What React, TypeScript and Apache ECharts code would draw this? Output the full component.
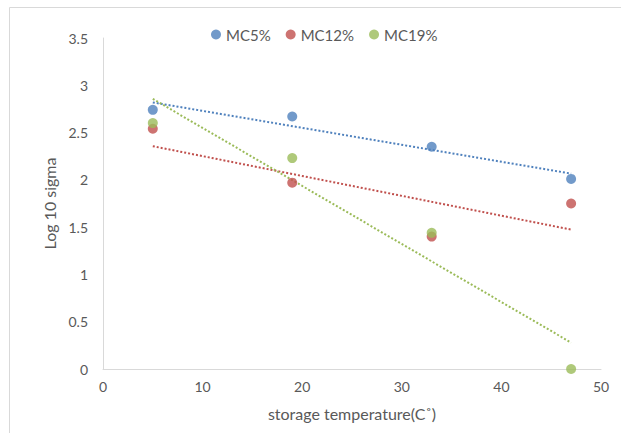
import React, { useEffect, useRef } from "react";
import * as echarts from "echarts";

const temperatures = [5, 19, 33, 47];
const mc5 = [2.74, 2.67, 2.35, 2.01];
const mc12 = [2.54, 1.97, 1.4, 1.75];
const mc19 = [2.6, 2.23, 1.44, 0.0];
const seriesNames = ["MC5%", "MC12%", "MC19%"];
const seriesColors = ["#4F81BD", "#C0504D", "#9BBB59"];
const xTicks = { min: 0, max: 50, interval: 10 };
const yTicks = { min: 0, max: 3.5, interval: 0.5 };

function trend(xs: number[], ys: number[]) {
  const n = xs.length;
  const mx = xs.reduce((a, b) => a + b, 0) / n;
  const my = ys.reduce((a, b) => a + b, 0) / n;
  let sxy = 0;
  let sxx = 0;
  for (let i = 0; i < n; i++) {
    sxy += (xs[i] - mx) * (ys[i] - my);
    sxx += (xs[i] - mx) * (xs[i] - mx);
  }
  const b = sxy / sxx;
  const a = my - b * mx;
  const x0 = xs[0];
  const x1 = xs[n - 1];
  return [
    [x0, a + b * x0],
    [x1, a + b * x1],
  ];
}

const FONT = "Lato, 'Open Sans', sans-serif";
const TXT = "#595959";

export default function App() {
  const ref = useRef<HTMLDivElement>(null);
  useEffect(() => {
    document.body.style.margin = "0";
    document.body.style.overflow = "hidden";
    const chart = echarts.init(ref.current!, undefined, { renderer: "svg" });
    const all = [mc5, mc12, mc19];
    const series: any[] = [];
    all.forEach((ys, i) => {
      series.push({
        name: seriesNames[i],
        type: "scatter",
        data: temperatures.map((t, j) => [t, ys[j]]),
        symbol: "circle",
        symbolSize: 10,
        itemStyle: { color: seriesColors[i] },
        z: 3,
      });
    });
    all.forEach((ys, i) => {
      series.push({
        name: seriesNames[i] + " trend",
        type: "line",
        data: trend(temperatures, ys),
        showSymbol: false,
        symbol: "none",
        lineStyle: { color: seriesColors[i], width: 2, type: [2, 2] },
        z: 2,
      });
    });
    chart.setOption({
      animation: false,
      backgroundColor: "#ffffff",
      textStyle: { fontFamily: FONT },
      graphic: [
        {
          type: "rect",
          shape: { x: 9.5, y: 7.5, width: 700, height: 600 },
          style: { fill: "none", stroke: "#d9d9d9", lineWidth: 1 },
          silent: true,
        },
      ],
      legend: {
        data: seriesNames,
        left: 206,
        top: 22,
        icon: "circle",
        itemWidth: 10,
        itemHeight: 10,
        itemGap: 15,
        textStyle: { color: TXT, fontSize: 15, fontFamily: FONT },
      },
      grid: { left: 103, right: 20, top: 38, bottom: 64 },
      xAxis: {
        type: "value",
        min: xTicks.min,
        max: xTicks.max,
        interval: xTicks.interval,
        name: "storage temperature(C˚)",
        nameLocation: "middle",
        nameGap: 36,
        nameTextStyle: { color: TXT, fontSize: 16, fontFamily: FONT },
        axisLine: { lineStyle: { color: "#d9d9d9", width: 1 } },
        axisTick: { show: false },
        splitLine: { show: false },
        axisLabel: { color: TXT, fontSize: 14, margin: 10, fontFamily: FONT },
      },
      yAxis: {
        type: "value",
        min: yTicks.min,
        max: yTicks.max,
        interval: yTicks.interval,
        name: "Log 10 sigma",
        nameLocation: "middle",
        nameGap: 40,
        nameTextStyle: { color: TXT, fontSize: 16, fontFamily: FONT },
        axisLine: { show: true, lineStyle: { color: "#d9d9d9", width: 1 } },
        axisTick: { show: false },
        splitLine: { show: false },
        axisLabel: { color: TXT, fontSize: 14, margin: 15, fontFamily: FONT },
      },
      series,
    });
    return () => chart.dispose();
  }, []);
  return <div ref={ref} style={{ width: 621, height: 433 }} />;
}
